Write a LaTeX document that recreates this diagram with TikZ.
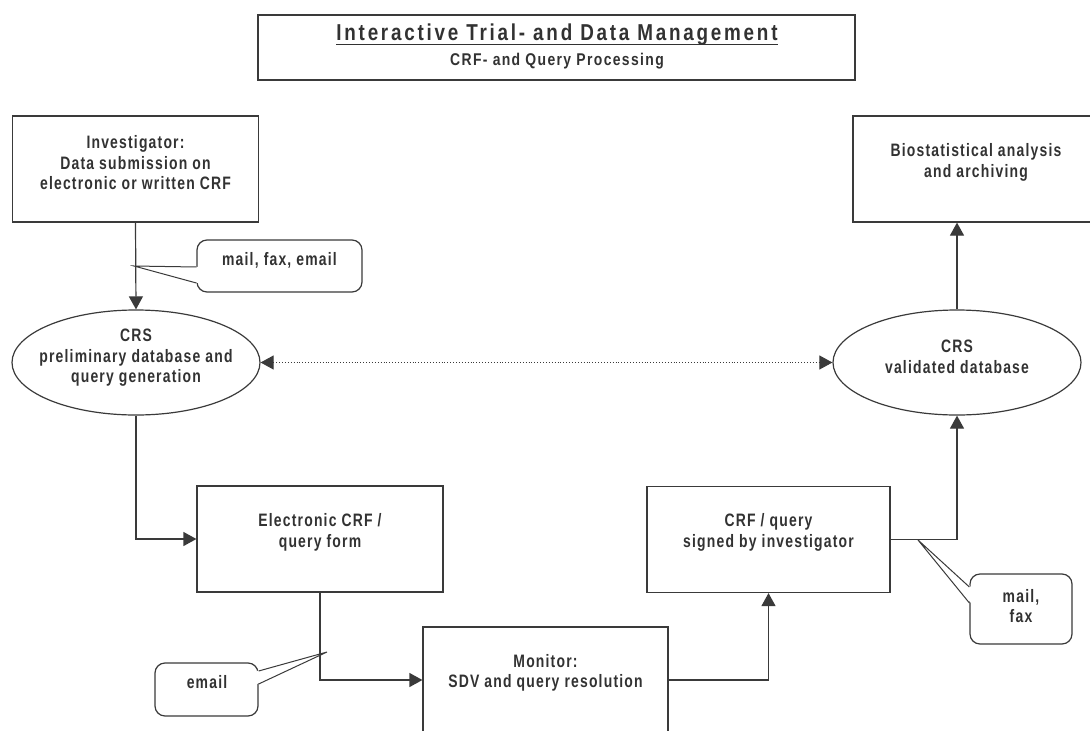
\documentclass[tikz,border=0pt]{standalone}
\usepackage{fontspec}
\setmainfont{Liberation Sans}
\newfontfamily\lblfont{Liberation Sans}[FakeStretch=0.775,LetterSpace=6.6]
\newfontfamily\ttlfont{Liberation Sans}[FakeStretch=0.82,LetterSpace=12]
\newfontfamily\subfont{Liberation Sans}[FakeStretch=0.82,LetterSpace=8]
\usetikzlibrary{arrows.meta,shapes.geometric,calc}
\definecolor{ln}{HTML}{3A3A3A}
\definecolor{tx}{HTML}{323232}
\begin{document}
\begin{tikzpicture}[x=1pt,y=-1pt,
  box/.style={draw=ln, line width=1.2pt, minimum width=246pt, minimum height=106pt, inner sep=0pt},
  oval/.style={ellipse, draw=ln, line width=1.2pt, minimum width=248pt, minimum height=105pt, inner sep=0pt},
  lbl/.style={text=tx, align=center, font=\lblfont\bfseries\fontsize{18}{20.5}\selectfont, inner sep=0pt},
  callout/.style={draw=ln, line width=1.2pt, rounded corners=10pt, fill=white, inner sep=0pt},
  conn/.style={draw=ln, line width=1.2pt, -{Triangle[length=13pt,width=14pt]}},
  pointer/.style={draw=ln, line width=1pt}
]
\useasboundingbox (0,0) rectangle (1090,731);
\clip (0,0) rectangle (1090,731);

% title
\node[draw=ln, line width=1.2pt, minimum width=597pt, minimum height=65pt, inner sep=0pt] (ttlbox) at (556.5,47.5) {};
\node[text=tx, inner sep=0pt, font=\ttlfont\bfseries\fontsize{23}{26}\selectfont] (ttl) at (557,35) {Interactive Trial- and Data Management};
\draw[tx, line width=1.3pt] ([yshift=-3.5pt]ttl.base west) -- ([yshift=-3.5pt]ttl.base east);
\node[text=tx, inner sep=0pt, font=\subfont\bfseries\fontsize{17}{20}\selectfont] (sub) at (557,61) {CRF- and Query Processing};

% boxes
\node[box] (inv) at (135.5,169) {};
\node[lbl] (invt) at (135.5,163) {Investigator:\\Data submission on\\electronic or written CRF};

\node[box] (bio) at (976,169) {};
\node[lbl] (biot) at (976,162.5) {Biostatistical analysis\\and archiving};

\node[box] (elec) at (320,539) {};
\node[lbl] (elect) at (320,532.5) {Electronic CRF /\\query form};

\node[box, minimum width=243pt] (crf) at (768.5,539.5) {};
\node[lbl] (crft) at (768.5,532.5) {CRF / query\\signed by investigator};

\node[box, minimum width=245pt] (mon) at (545.5,680) {};
\node[lbl] (mont) at (545.5,673) {Monitor:\\SDV and query resolution};

% ellipses
\node[oval] (lell) at (136,362.5) {};
\node[lbl] (lellt) at (136,358) {CRS\\preliminary database and\\query generation};

\node[oval] (rell) at (957,362.5) {};
\node[lbl] (rellt) at (957,357) {CRS\\validated database};

% callouts
\node[callout, minimum width=165pt, minimum height=52pt] (ca) at (279.5,266) {};
\node[lbl] (cat) at (279.5,260) {mail, fax, email};
\coordinate (pa) at (134,266);
\fill[white] ($(ca.west)+(1.6,1)$) -- (pa) -- ($(ca.west)+(1.6,17)$) -- cycle;
\draw[pointer] ($(ca.west)+(0,1)$) -- (pa) -- ($(ca.west)+(0,17)$);

\node[callout, minimum width=103pt, minimum height=53pt] (cb) at (206.5,689.5) {};
\node[lbl] (cbt) at (207,682) {email};
\coordinate (pb) at (327,652);
\fill[white] ($(cb.east)+(-1.6,-18.5)$) -- (pb) -- ($(cb.east)+(-1.6,-5.5)$) -- cycle;
\draw[pointer] ($(cb.east)+(0,-18.5)$) -- (pb) -- ($(cb.east)+(0,-5.5)$);

\node[callout, minimum width=102pt, minimum height=70pt] (cc) at (1021,609) {};
\node[lbl] (cct) at (1021,606) {mail,\\fax};
\coordinate (pc) at (918,540);
\fill[white] ($(cc.west)+(1.6,-22)$) -- (pc) -- ($(cc.west)+(1.6,-6)$) -- cycle;
\draw[pointer] ($(cc.west)+(0,-22)$) -- (pc) -- ($(cc.west)+(0,-6)$);

% connectors
\draw[conn] (inv.south) -- (lell.north);
\draw[draw=ln, line width=0.9pt, dotted, {Triangle[length=13pt,width=14pt]}-{Triangle[length=13pt,width=14pt]}] (lell.east) -- (rell.west);
\draw[conn] (lell.south) |- (elec.west);
\draw[conn] (elec.south) |- (mon.west);
\draw[conn] (mon.east) -| (crf.south);
\draw[conn] (crf.east) -| (rell.south);
\draw[conn] (rell.north) -- (rell.north |- bio.south);
\end{tikzpicture}
\end{document}
